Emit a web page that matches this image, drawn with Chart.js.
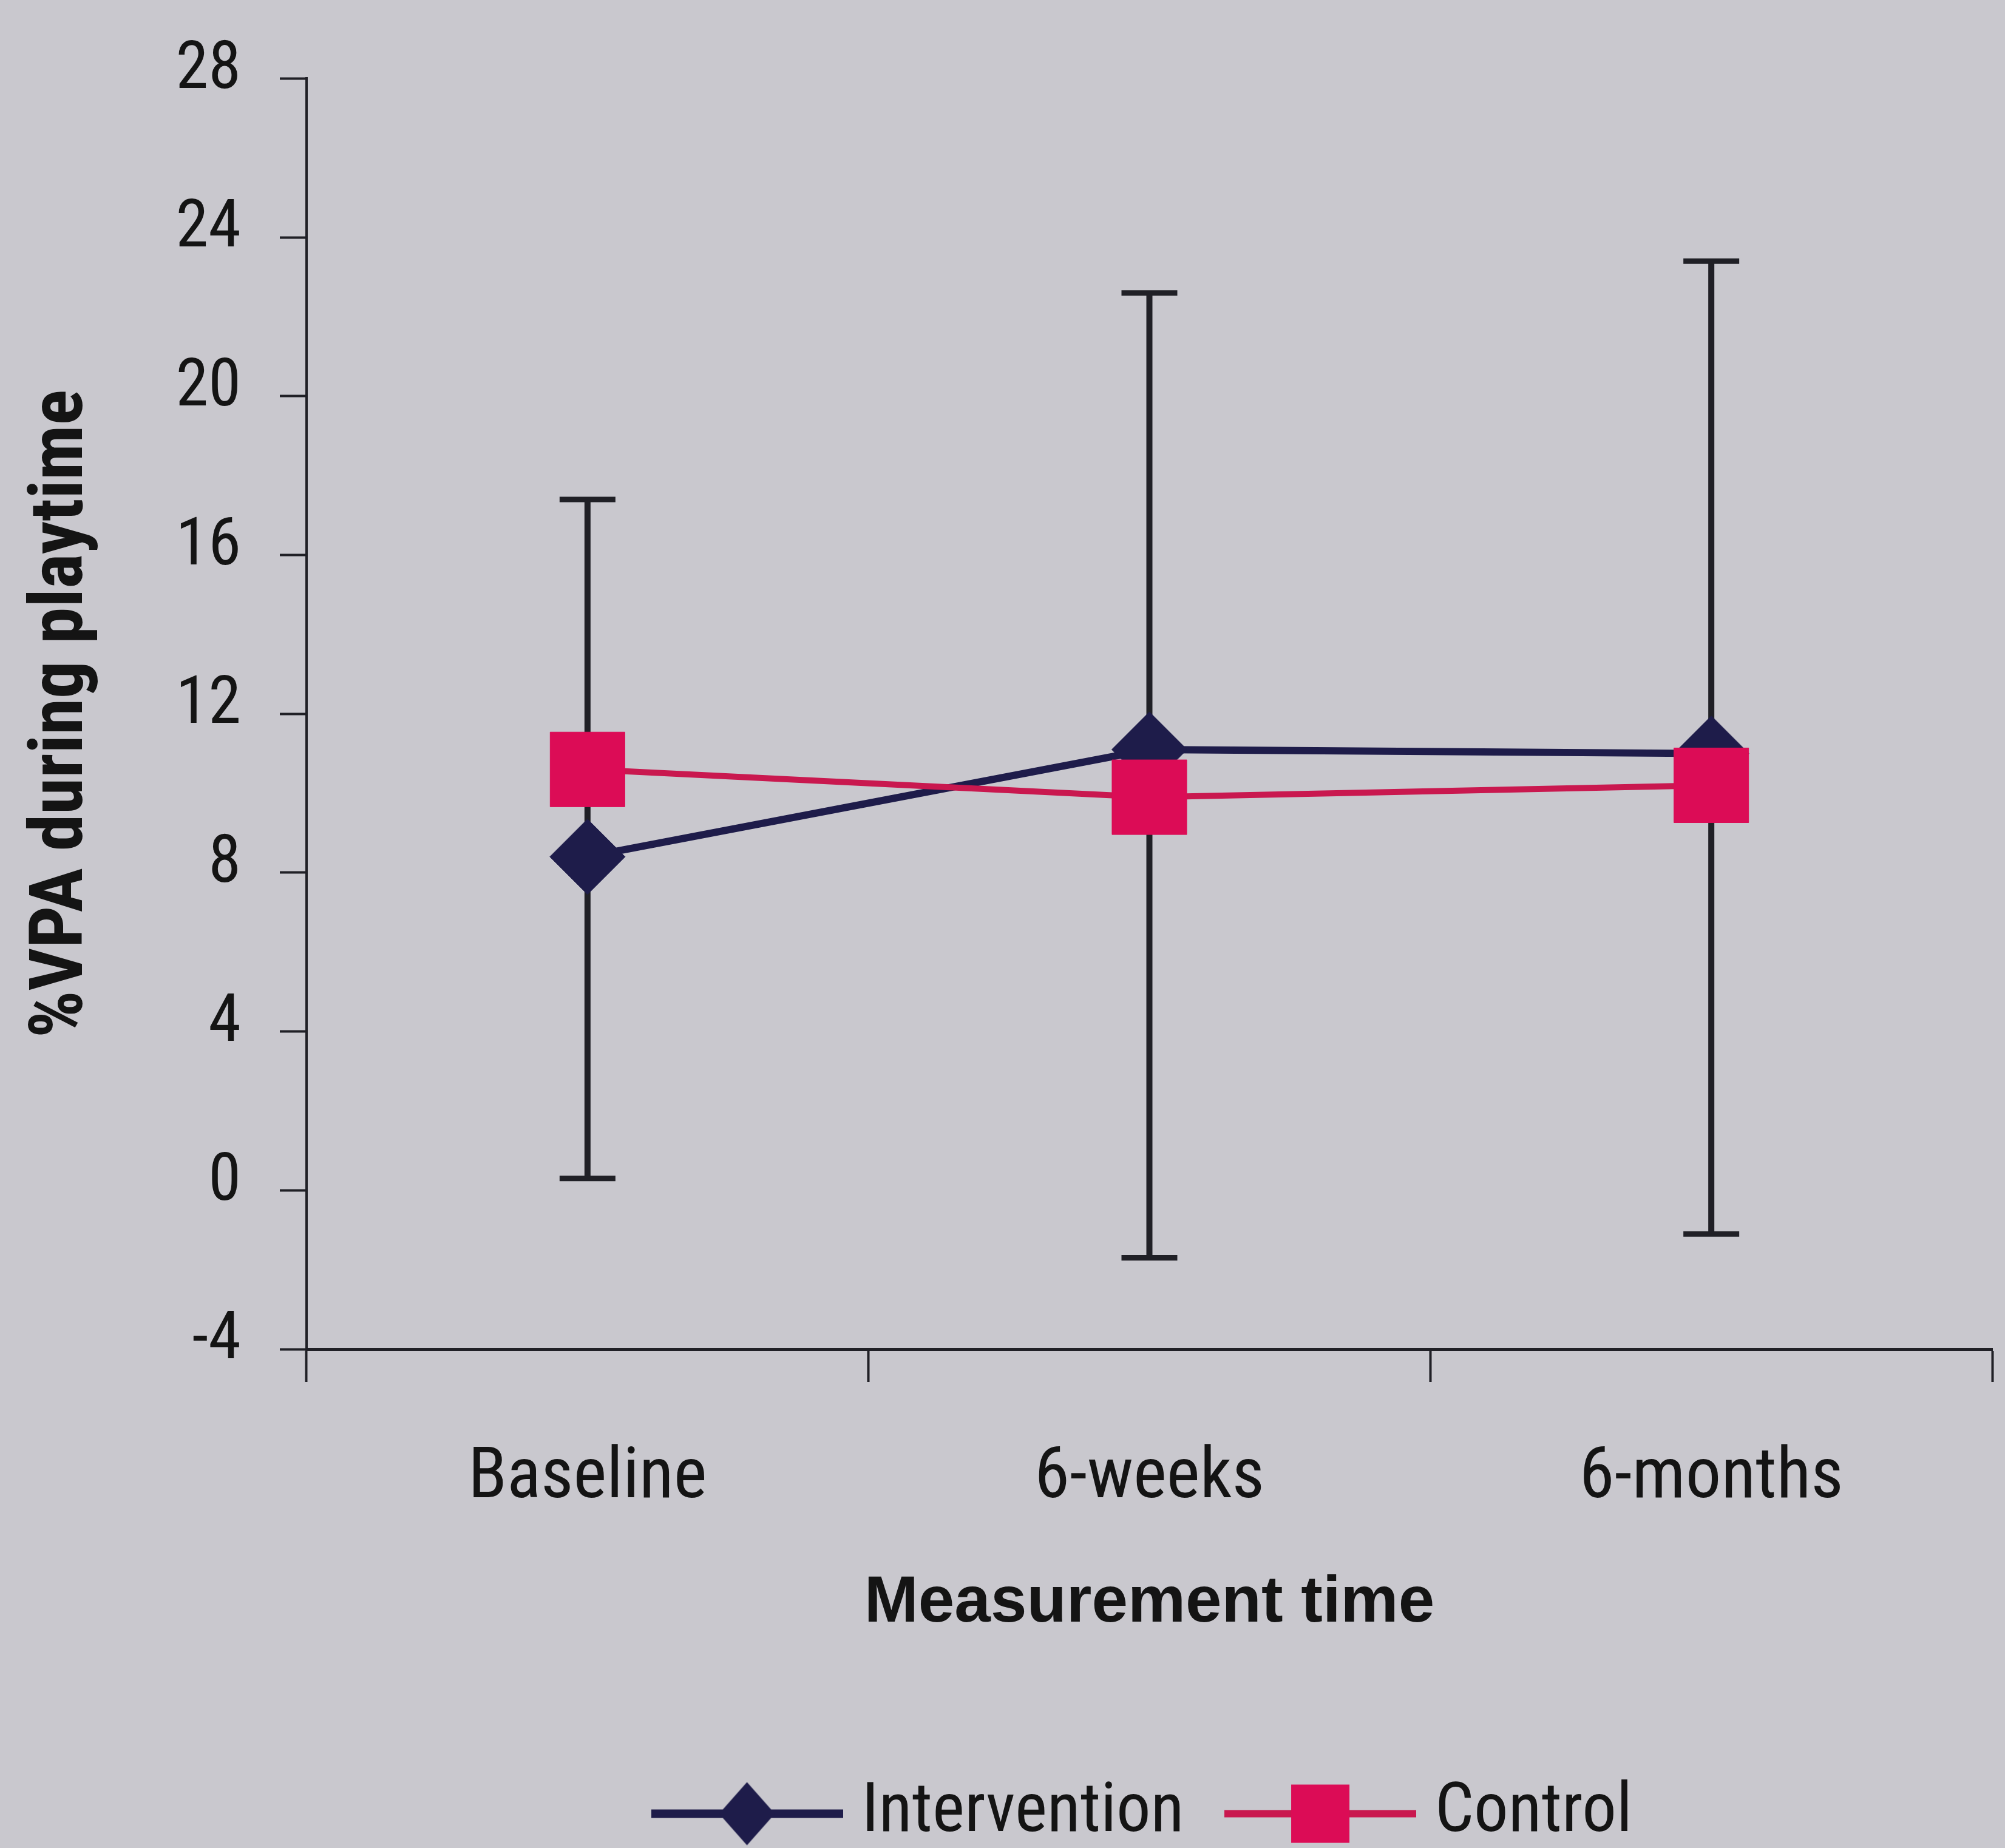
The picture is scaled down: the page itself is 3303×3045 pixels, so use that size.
<!DOCTYPE html>
<html>
<head>
<meta charset="utf-8">
<title>%VPA during playtime by measurement time</title>
<script src="https://cdn.jsdelivr.net/npm/chart.js@4/dist/chart.umd.min.js"></script>
<style>
  html, body { margin: 0; padding: 0; overflow: hidden; background: #c9c8ce; }
  canvas { display: block; }
</style>
</head>
<body>
<canvas id="chart"></canvas>
<script>
// Measurement points and group means (% of playtime spent in VPA)
const categories = ['Baseline', '6-weeks', '6-months'];
const seriesNames = ['Intervention', 'Control'];
const intervention = [8.4, 11.1, 11.0];
const control = [10.6, 9.9, 10.2];
// Error bar limits at each measurement point
const errorHigh = [17.4, 22.6, 23.4];
const errorLow = [0.3, -1.7, -1.1];
// Y-axis tick values
const yTickValues = [-4, 0, 4, 8, 12, 16, 20, 24, 28];

const TEXT = '#141414';
const AXIS = '#202026';
const NAVY = '#1e1c4a';
const CRIMSON_FILL = '#dc0c56';
const CRIMSON_LINE = '#c9184f';

// Narrow faces first; the size of each text is fitted to the space it occupies
const NARROW = '"Liberation Sans Narrow", "Arial Narrow", "Roboto Condensed", "Liberation Sans", Arial, sans-serif';
const REGULAR = '"Liberation Sans", Arial, sans-serif';
const probe = document.createElement('canvas').getContext('2d');
function fitSize(text, family, weight, width, maxSize) {
  probe.font = weight + ' 100px ' + family;
  const w = probe.measureText(text).width;
  return Math.min(maxSize, Math.round(100 * width / w));
}

// Page geometry (pixels)
const W = 3303;
const PLOT_TOP = 129, PLOT_BOTTOM = 2223, PLOT_LEFT = 505, PLOT_RIGHT = 3282;
const X_TICK_LEN = 54, Y_TICK_LEN = 44;

const yTickSize = fitSize('28', NARROW, 'normal', 108, 112);
const xTickSize = fitSize('Baseline', NARROW, 'normal', 395, 125);
const yTitleSize = fitSize('%VPA during playtime', NARROW, 'bold', 1080, 122);
const xTitleSize = fitSize('Measurement time', REGULAR, 'bold', 940, 114);
const legendSize = fitSize('Intervention', NARROW, 'normal', 530, 130);

probe.font = 'normal ' + legendSize + 'px ' + NARROW;
const firstLabelWidth = probe.measureText(seriesNames[0]).width;

// Legend key spacing: marker centres 944 px apart, text starts 189 px after marker centre
const legendBoxWidth = 378 - legendSize;
const legendPadding = Math.max(20, Math.round(944 - legendBoxWidth - legendSize / 2 - firstLabelWidth));
const legendMiddle = 2988;
const xAxisHeight = Math.round(legendMiddle - PLOT_BOTTOM - legendPadding - legendSize / 2);
const xTitleMiddle = 2643;
const xTitlePadBottom = Math.max(0, Math.round(PLOT_BOTTOM + xAxisHeight - xTitleMiddle - 0.6 * xTitleSize));
const xTickPad = Math.round(2438 - PLOT_BOTTOM - X_TICK_LEN - 0.6 * xTickSize);
const yTitlePadTop = Math.max(0, Math.round(104 - 0.6 * yTitleSize));
const H = PLOT_BOTTOM + xAxisHeight + legendSize + legendPadding + 10;

const canvas = document.getElementById('chart');
canvas.width = W;
canvas.height = H;

// Legend key: a short stretch of the series line with its marker
function legendKey(lineColor, lineWidth, fillColor, shape) {
  const c = document.createElement('canvas');
  c.width = 316; c.height = 112;
  const g = c.getContext('2d');
  const cy = c.height / 2, cx = c.width / 2;
  g.strokeStyle = lineColor;
  g.lineWidth = lineWidth;
  g.beginPath(); g.moveTo(0, cy); g.lineTo(c.width, cy); g.stroke();
  g.fillStyle = fillColor;
  g.beginPath();
  if (shape === 'diamond') {
    g.moveTo(cx, cy - 52); g.lineTo(cx + 46, cy); g.lineTo(cx, cy + 52); g.lineTo(cx - 46, cy);
    g.closePath();
  } else {
    g.rect(cx - 48, cy - 48, 96, 96);
  }
  g.fill();
  return c;
}
const legendKeys = [
  legendKey(NAVY, 14, NAVY, 'diamond'),
  legendKey(CRIMSON_LINE, 12, CRIMSON_FILL, 'square')
];

// Vertical error bars with caps, drawn beneath the series
const errorBars = {
  id: 'errorBars',
  beforeDatasetsDraw(chart) {
    const { ctx, scales: { x, y } } = chart;
    ctx.save();
    ctx.strokeStyle = AXIS;
    ctx.lineCap = 'butt';
    categories.forEach((_, i) => {
      const px = x.getPixelForValue(i);
      const top = y.getPixelForValue(errorHigh[i]);
      const bottom = y.getPixelForValue(errorLow[i]);
      ctx.lineWidth = 10;
      ctx.beginPath(); ctx.moveTo(px, top); ctx.lineTo(px, bottom); ctx.stroke();
      ctx.lineWidth = 9;
      ctx.beginPath();
      ctx.moveTo(px - 46, top); ctx.lineTo(px + 46, top);
      ctx.moveTo(px - 46, bottom); ctx.lineTo(px + 46, bottom);
      ctx.stroke();
    });
    ctx.restore();
  }
};

new Chart(canvas, {
  type: 'line',
  data: {
    labels: categories,
    datasets: [
      {
        label: seriesNames[0],
        data: intervention,
        borderColor: NAVY,
        borderWidth: 12,
        backgroundColor: NAVY,
        pointStyle: 'rectRot',
        pointRadius: 62,
        pointBackgroundColor: NAVY,
        pointBorderColor: NAVY,
        pointBorderWidth: 1,
        tension: 0,
        order: 1
      },
      {
        label: seriesNames[1],
        data: control,
        borderColor: CRIMSON_LINE,
        borderWidth: 10,
        backgroundColor: CRIMSON_FILL,
        pointStyle: 'rect',
        pointRadius: 87,
        pointBackgroundColor: CRIMSON_FILL,
        pointBorderColor: CRIMSON_FILL,
        pointBorderWidth: 1,
        tension: 0,
        order: 0
      }
    ]
  },
  options: {
    responsive: false,
    animation: false,
    events: [],
    layout: {
      autoPadding: false,
      padding: { top: PLOT_TOP, right: W - PLOT_RIGHT, bottom: 0, left: 0 }
    },
    scales: {
      x: {
        offset: true,
        afterFit(scale) {
          scale.height = xAxisHeight;
          // category labels sit well inside the plot, so no side padding is needed
          scale.paddingLeft = 0;
          scale.paddingRight = 0;
        },
        border: { display: true, color: AXIS, width: 5 },
        grid: { offset: true, drawOnChartArea: false, drawTicks: true, tickLength: X_TICK_LEN, tickWidth: 4, tickColor: AXIS },
        ticks: { color: TEXT, font: { family: NARROW, size: xTickSize }, padding: xTickPad, maxRotation: 0, autoSkip: false },
        title: {
          display: true, text: 'Measurement time', color: TEXT,
          font: { family: REGULAR, size: xTitleSize, weight: 'bold' },
          padding: { top: 0, bottom: xTitlePadBottom }
        }
      },
      y: {
        min: -4,
        max: 28,
        afterBuildTicks(scale) { scale.ticks = yTickValues.map(v => ({ value: v })); },
        afterFit(scale) { scale.width = PLOT_LEFT; },
        border: { display: true, color: AXIS, width: 4 },
        grid: { drawOnChartArea: false, drawTicks: true, tickLength: Y_TICK_LEN, tickWidth: 4, tickColor: AXIS },
        ticks: { color: TEXT, font: { family: NARROW, size: yTickSize }, padding: 64, labelOffset: -12 },
        title: {
          display: true, text: '%VPA during playtime', color: TEXT,
          font: { family: NARROW, size: yTitleSize, weight: 'bold' },
          padding: { top: yTitlePadTop, bottom: 0 }
        }
      }
    },
    plugins: {
      tooltip: { enabled: false },
      legend: {
        position: 'bottom',
        fullSize: false,
        align: 'center',
        labels: {
          usePointStyle: true,
          pointStyleWidth: legendBoxWidth,
          padding: legendPadding,
          color: TEXT,
          font: { family: NARROW, size: legendSize },
          generateLabels(chart) {
            return chart.data.datasets.map((ds, i) => ({
              text: ds.label,
              fillStyle: ds.backgroundColor,
              strokeStyle: ds.borderColor,
              lineWidth: 0,
              pointStyle: legendKeys[i],
              hidden: false,
              datasetIndex: i,
              fontColor: TEXT
            }));
          }
        }
      }
    }
  },
  plugins: [errorBars]
});
</script>
</body>
</html>
